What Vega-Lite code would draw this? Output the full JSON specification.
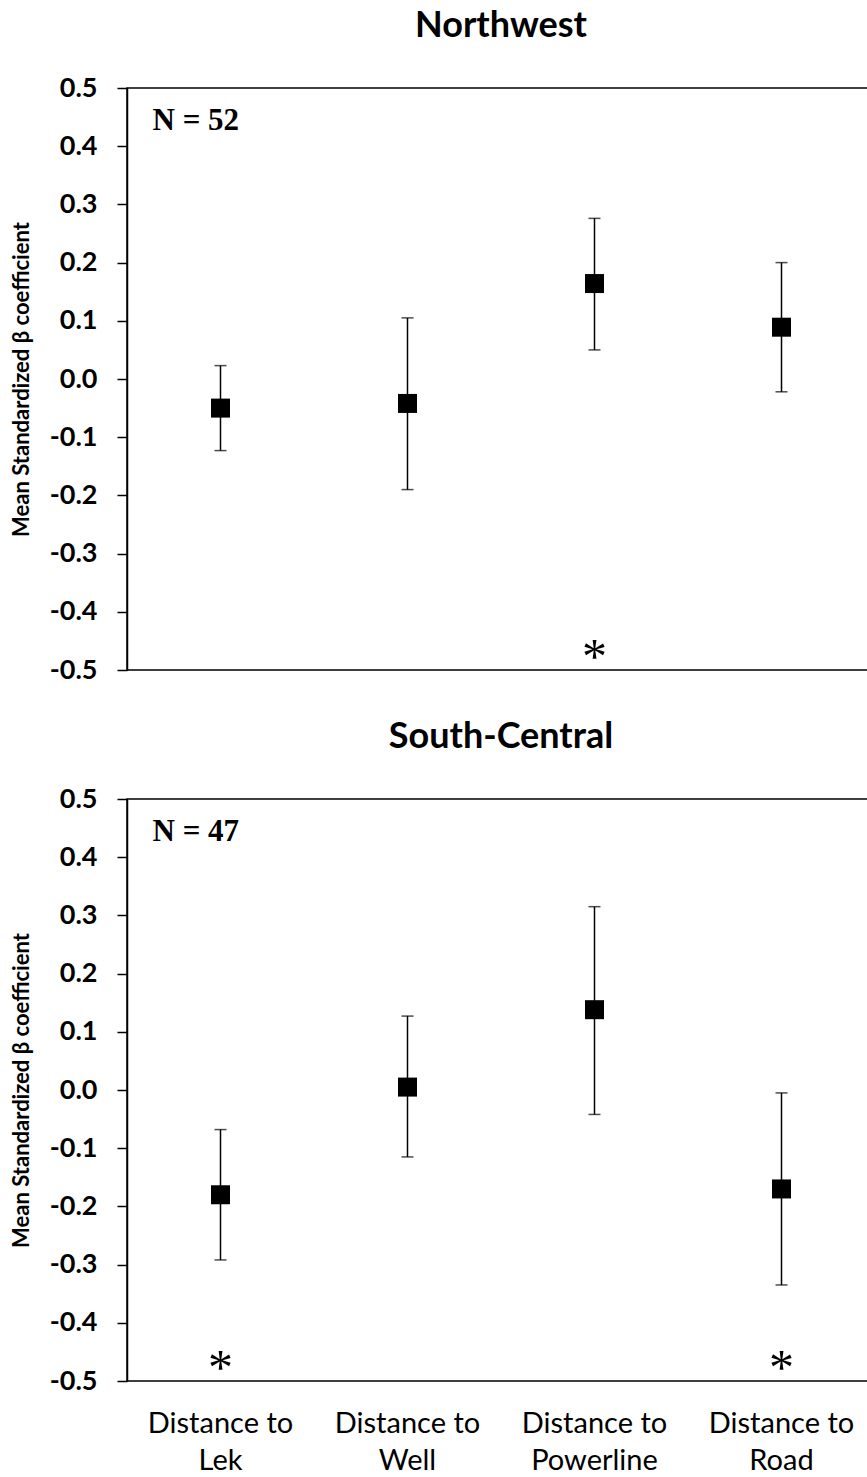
{
  "$schema": "https://vega.github.io/schema/vega-lite/v6.json",
  "background": "white",
  "padding": {"left": 9, "top": 7, "right": 0, "bottom": 0},
  "datasets": {
    "coef": [
      {"panel": "Northwest", "cat": "Distance to Lek", "mean": -0.050, "lo": -0.123, "hi": 0.023},
      {"panel": "Northwest", "cat": "Distance to Well", "mean": -0.042, "lo": -0.190, "hi": 0.105},
      {"panel": "Northwest", "cat": "Distance to Powerline", "mean": 0.164, "lo": 0.050, "hi": 0.276},
      {"panel": "Northwest", "cat": "Distance to Road", "mean": 0.089, "lo": -0.022, "hi": 0.200},
      {"panel": "South-Central", "cat": "Distance to Lek", "mean": -0.180, "lo": -0.292, "hi": -0.068},
      {"panel": "South-Central", "cat": "Distance to Well", "mean": 0.005, "lo": -0.115, "hi": 0.127},
      {"panel": "South-Central", "cat": "Distance to Powerline", "mean": 0.138, "lo": -0.042, "hi": 0.315},
      {"panel": "South-Central", "cat": "Distance to Road", "mean": -0.170, "lo": -0.335, "hi": -0.005}
    ],
    "stars": [
      {"panel": "Northwest", "cat": "Distance to Powerline"},
      {"panel": "South-Central", "cat": "Distance to Lek"},
      {"panel": "South-Central", "cat": "Distance to Road"}
    ],
    "notes": [
      {"panel": "Northwest", "label": "N = 52"},
      {"panel": "South-Central", "label": "N = 47"}
    ]
  },
  "config": {
    "view": {"stroke": "black", "strokeWidth": 1.5},
    "title": {"font": "Lato", "fontSize": 36, "fontWeight": "bold", "color": "black", "anchor": "middle", "offset": 29},
    "axis": {"grid": false}
  },
  "spacing": 34,
  "vconcat": [
    {
      "title": "Northwest",
      "width": 748,
      "height": 582,
      "layer": [
        {
          "mark": {"type": "rule", "strokeDash": [5, 3], "strokeWidth": 1, "color": "black"},
          "encoding": {"y": {"datum": 0, "type": "quantitative", "scale": {"domain": [-0.5, 0.5], "nice": false, "zero": false}}}
        },
        {
          "data": {"name": "coef"},
          "transform": [{"filter": "datum.panel === 'Northwest'"}],
          "layer": [
            {"mark": {"type": "rule", "color": "black", "strokeWidth": 1.5}, "encoding": {"y": {"field": "lo", "type": "quantitative"}, "y2": {"field": "hi"}}},
            {"mark": {"type": "tick", "color": "black", "size": 12, "thickness": 1.5}, "encoding": {"y": {"field": "lo", "type": "quantitative"}}},
            {"mark": {"type": "tick", "color": "black", "size": 12, "thickness": 1.5}, "encoding": {"y": {"field": "hi", "type": "quantitative"}}},
            {"mark": {"type": "point", "shape": "square", "filled": true, "color": "black", "size": 361, "opacity": 1}, "encoding": {"y": {"field": "mean", "type": "quantitative"}}}
          ],
          "encoding": {
            "x": {"field": "cat", "type": "nominal", "sort": ["Distance to Lek", "Distance to Well", "Distance to Powerline", "Distance to Road"], "axis": null,
                  "scale": {"domain": ["Distance to Lek", "Distance to Well", "Distance to Powerline", "Distance to Road"], "paddingInner": 0, "paddingOuter": 0}}
          }
        },
        {
          "data": {"name": "stars"},
          "transform": [{"filter": "datum.panel === 'Northwest'"}],
          "mark": {"type": "text", "text": "*", "font": "Liberation Serif", "fontSize": 50, "baseline": "alphabetic", "dy": 23, "color": "black"},
          "encoding": {
            "x": {"field": "cat", "type": "nominal", "sort": ["Distance to Lek", "Distance to Well", "Distance to Powerline", "Distance to Road"], "axis": null},
            "y": {"datum": -0.466, "type": "quantitative"}
          }
        },
        {
          "data": {"name": "notes"},
          "transform": [{"filter": "datum.panel === 'Northwest'"}],
          "mark": {"type": "text", "font": "Liberation Serif", "fontWeight": "bold", "fontSize": 31, "align": "left", "baseline": "middle", "dx": -68, "color": "black"},
          "encoding": {
            "text": {"field": "label"},
            "x": {"datum": "Distance to Lek", "type": "nominal"},
            "y": {"datum": 0.443, "type": "quantitative"}
          }
        }
      ],
      "encoding": {
        "y": {
          "type": "quantitative",
          "axis": {
            "title": "Mean Standardized β coefficient",
            "titleFont": "Lato", "titleFontSize": 22, "titleFontWeight": "bold", "titleColor": "black", "titlePadding": 16,
            "values": [-0.5, -0.4, -0.3, -0.2, -0.1, 0, 0.1, 0.2, 0.3, 0.4, 0.5],
            "labelExpr": "datum.value < -0.001 ? '-' + format(-datum.value, '.1f') : format(abs(datum.value), '.1f')",
            "labelFont": "Lato", "labelFontSize": 27, "labelFontWeight": "bold", "labelColor": "black",
            "tickSize": 10, "tickColor": "black", "tickWidth": 1.5, "labelPadding": 20,
            "domainColor": "black", "domainWidth": 1.5
          }
        }
      }
    },
    {
      "title": "South-Central",
      "width": 748,
      "height": 582,
      "layer": [
        {
          "mark": {"type": "rule", "strokeDash": [5, 3], "strokeWidth": 1, "color": "black"},
          "encoding": {"y": {"datum": 0, "type": "quantitative", "scale": {"domain": [-0.5, 0.5], "nice": false, "zero": false}}}
        },
        {
          "data": {"name": "coef"},
          "transform": [{"filter": "datum.panel === 'South-Central'"}],
          "layer": [
            {"mark": {"type": "rule", "color": "black", "strokeWidth": 1.5}, "encoding": {"y": {"field": "lo", "type": "quantitative"}, "y2": {"field": "hi"}}},
            {"mark": {"type": "tick", "color": "black", "size": 12, "thickness": 1.5}, "encoding": {"y": {"field": "lo", "type": "quantitative"}}},
            {"mark": {"type": "tick", "color": "black", "size": 12, "thickness": 1.5}, "encoding": {"y": {"field": "hi", "type": "quantitative"}}},
            {"mark": {"type": "point", "shape": "square", "filled": true, "color": "black", "size": 361, "opacity": 1}, "encoding": {"y": {"field": "mean", "type": "quantitative"}}}
          ],
          "encoding": {
            "x": {
              "field": "cat", "type": "nominal", "title": null,
              "sort": ["Distance to Lek", "Distance to Well", "Distance to Powerline", "Distance to Road"],
              "scale": {"domain": ["Distance to Lek", "Distance to Well", "Distance to Powerline", "Distance to Road"], "paddingInner": 0, "paddingOuter": 0},
              "axis": {
                "domain": false, "ticks": false, "labelAngle": 0,
                "labelExpr": "['Distance to', slice(datum.label, 12)]",
                "labelFont": "Lato", "labelFontSize": 29, "labelColor": "black",
                "labelLineHeight": 37, "labelPadding": 28, "labelBaseline": "top"
              }
            }
          }
        },
        {
          "data": {"name": "stars"},
          "transform": [{"filter": "datum.panel === 'South-Central'"}],
          "mark": {"type": "text", "text": "*", "font": "Liberation Serif", "fontSize": 50, "baseline": "alphabetic", "dy": 23, "color": "black"},
          "encoding": {
            "x": {"field": "cat", "type": "nominal", "sort": ["Distance to Lek", "Distance to Well", "Distance to Powerline", "Distance to Road"]},
            "y": {"datum": -0.465, "type": "quantitative"}
          }
        },
        {
          "data": {"name": "notes"},
          "transform": [{"filter": "datum.panel === 'South-Central'"}],
          "mark": {"type": "text", "font": "Liberation Serif", "fontWeight": "bold", "fontSize": 31, "align": "left", "baseline": "middle", "dx": -68, "color": "black"},
          "encoding": {
            "text": {"field": "label"},
            "x": {"datum": "Distance to Lek", "type": "nominal"},
            "y": {"datum": 0.443, "type": "quantitative"}
          }
        }
      ],
      "encoding": {
        "y": {
          "type": "quantitative",
          "axis": {
            "title": "Mean Standardized β coefficient",
            "titleFont": "Lato", "titleFontSize": 22, "titleFontWeight": "bold", "titleColor": "black", "titlePadding": 16,
            "values": [-0.5, -0.4, -0.3, -0.2, -0.1, 0, 0.1, 0.2, 0.3, 0.4, 0.5],
            "labelExpr": "datum.value < -0.001 ? '-' + format(-datum.value, '.1f') : format(abs(datum.value), '.1f')",
            "labelFont": "Lato", "labelFontSize": 27, "labelFontWeight": "bold", "labelColor": "black",
            "tickSize": 10, "tickColor": "black", "tickWidth": 1.5, "labelPadding": 20,
            "domainColor": "black", "domainWidth": 1.5
          }
        }
      }
    }
  ]
}
